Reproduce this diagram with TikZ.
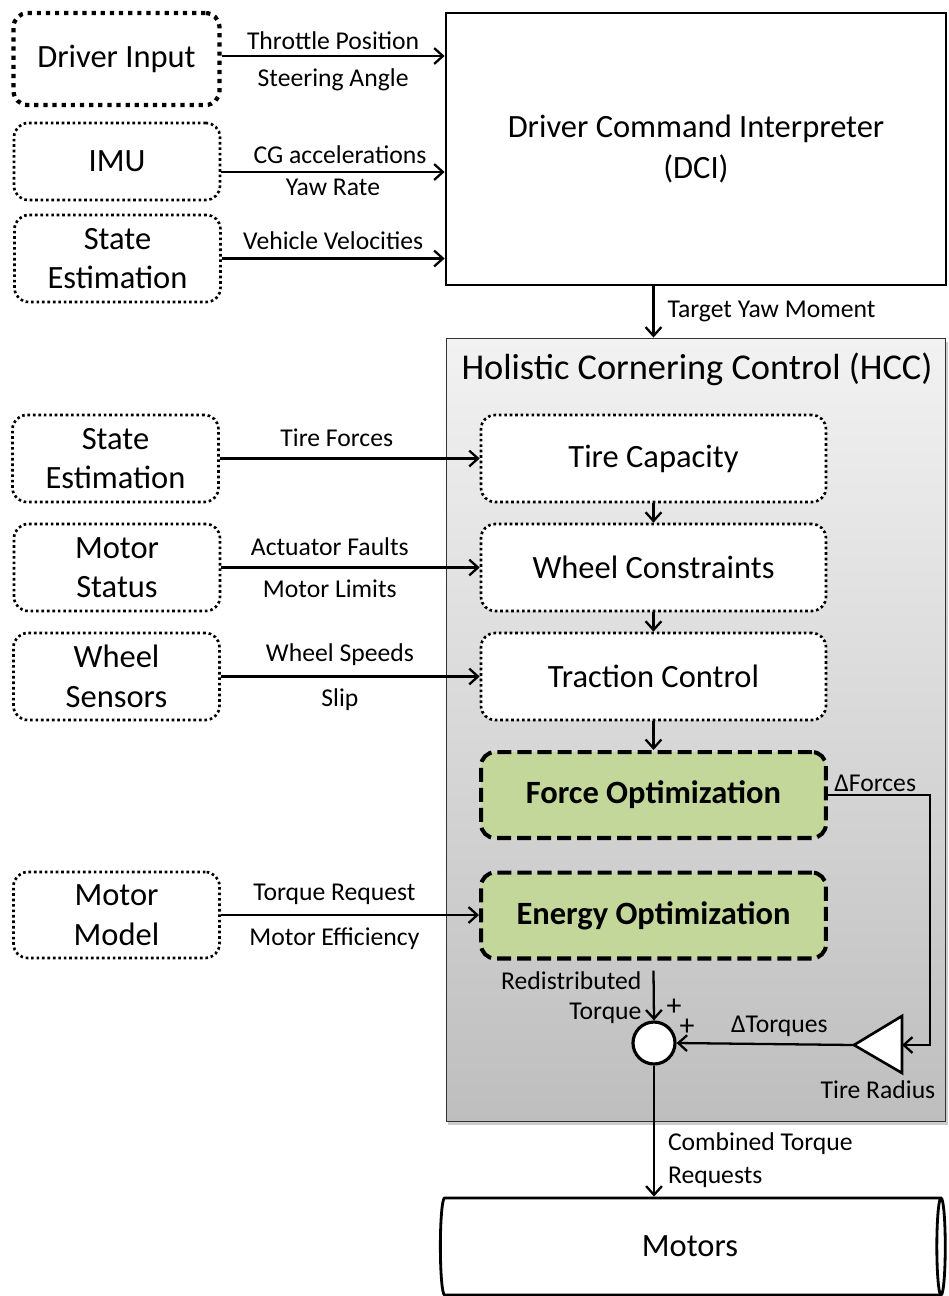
\documentclass[tikz,border=0pt]{standalone}
\usepackage{fontspec}
\setmainfont{Carlito}
\usetikzlibrary{shapes.geometric,shadows,calc,arrows.meta}

\definecolor{optgreen}{HTML}{C4D79B}
\definecolor{hcctop}{HTML}{F2F2F2}
\definecolor{hccbot}{HTML}{BEBEBE}

\tikzset{
  srcbox/.style={draw, rounded corners=8pt, line width=1.5pt, dash pattern=on 1.5pt off 1.6pt,
    minimum width=4.12cm, minimum height=1.74cm, align=center, font=\fontsize{18.5}{22.5}\selectfont},
  hccblock/.style={draw, fill=white, rounded corners=8pt, line width=1.5pt, dash pattern=on 1.5pt off 1.6pt,
    minimum width=6.9cm, minimum height=1.74cm, font=\fontsize{18.5}{22}\selectfont},
  optblock/.style={draw, fill=optgreen, rounded corners=8pt, line width=2.3pt, dash pattern=on 8pt off 3.4pt,
    minimum width=6.9cm, minimum height=1.72cm, font=\fontsize{18.5}{22}\selectfont\bfseries},
  lbl/.style={font=\fontsize{14.6}{17}\selectfont},
  flow/.style={->, line width=1.3pt, >={Straight Barb[length=5pt,width=9pt]}}
}

\begin{document}
\begin{tikzpicture}[x=0.02cm, y=-0.02cm]
  \useasboundingbox (0,0) rectangle (948,1296);

  % sources for the DCI
  \node[srcbox, line width=2.4pt, dash pattern=on 2.4pt off 2.8pt, minimum height=1.84cm] (drv) at (116.5,59) {Driver Input};
  \node[srcbox, minimum height=1.54cm] (imu) at (117,161.5) {IMU};
  \node[srcbox] (sest1) at (117.5,258.5) {State\\Estimation};

  \node[draw, line width=1.6pt, minimum width=10cm, minimum height=5.44cm, align=center,
    font=\fontsize{18.5}{23}\selectfont] (dci) at (696,149) {Driver Command Interpreter\\(DCI)};

  % HCC frame
  \node[draw=black!80, line width=0.6pt, top color=hcctop, bottom color=hccbot,
    drop shadow={shadow xshift=1pt, shadow yshift=-2pt, opacity=0.4},
    minimum width=10cm, minimum height=15.68cm] (hcc) at (696,730) {};
  \node[font=\fontsize{20.7}{24}\selectfont] (title) at (697,369) {Holistic Cornering Control (HCC)};

  \node[hccblock] (tcap) at (653.5,458.5) {Tire Capacity};
  \node[hccblock] (wcon) at (653.5,567.5) {Wheel Constraints};
  \node[hccblock] (trac) at (653.5,676.5) {Traction Control};
  \node[optblock] (fopt) at (653.5,795) {Force Optimization};
  \node[optblock] (eopt) at (653.5,915.5) {Energy Optimization};

  % sources for the HCC
  \node[srcbox] (sest2) at (115.5,458.5) {State\\Estimation};
  \node[srcbox] (mstat) at (117,567.5) {Motor\\Status};
  \node[srcbox] (wsens) at (116.5,676.5) {Wheel\\Sensors};
  \node[srcbox, minimum height=1.72cm] (mmod) at (116.5,915) {Motor\\Model};

  \node[circle, draw, fill=white, line width=1.8pt, minimum size=0.84cm, inner sep=0pt] (sum) at (654,1043) {};
  \coordinate (gtip) at (854,1045);
  \coordinate (gin) at (902,1045);
  \draw[fill=white, line width=1.5pt] (gtip) -- (902,1016) -- (902,1073) -- cycle;
  \node[lbl] (trad) at (878,1090) {Tire Radius};

  \node[cylinder, draw, line width=1.6pt, fill=white, shape aspect=0.4, minimum width=1.94cm,
    minimum height=10.1cm, inner sep=0pt, font=\fontsize{18.5}{22}\selectfont] (motors) at (690,1246.5) {Motors};

  % signals
  \draw[flow] (drv.east) ++(0,-3) coordinate (a) -- (a -| dci.west)
    node[lbl, midway, above, inner sep=2pt, yshift=1pt] {Throttle Position}
    node[lbl, midway, below, inner sep=2pt, yshift=-4.5pt] {Steering Angle};
  \draw[flow] (imu.east) ++(0,10.5) coordinate (b) -- (b -| dci.west)
    node[lbl, midway, above, inner sep=1pt, xshift=4pt, yshift=3pt] {CG accelerations}
    node[lbl, midway, below, inner sep=0pt, yshift=-3.5pt] {Yaw Rate};
  \draw[flow] (sest1.east) -- (sest1.east -| dci.west)
    node[lbl, midway, above, yshift=1pt] {Vehicle Velocities};
  \draw[flow] (tcap |- dci.south) -- (tcap |- hcc.north)
    node[lbl, midway, right, xshift=4pt] {Target Yaw Moment};

  \draw[flow] (sest2.east) -- (sest2.east -| tcap.west)
    node[lbl, pos=0.45, above, yshift=3pt] {Tire Forces};
  \draw[flow] (mstat.east) -- (mstat.east -| wcon.west)
    node[lbl, pos=0.42, above, yshift=3pt] {Actuator Faults}
    node[lbl, pos=0.42, below, yshift=-3pt] {Motor Limits};
  \draw[flow] (wsens.east) -- (wsens.east -| trac.west)
    node[lbl, pos=0.46, above, yshift=2pt] {Wheel Speeds}
    node[lbl, pos=0.46, below, yshift=-3pt] {Slip};
  \draw[flow] (mmod.east) -- (mmod.east -| eopt.west)
    node[lbl, pos=0.44, above, yshift=2pt] {Torque Request}
    node[lbl, pos=0.44, below, yshift=-3pt] {Motor Efficiency};

  \draw[flow] (tcap.south) -- (wcon.north);
  \draw[flow] (wcon.south) -- (trac.north);
  \draw[flow] (trac.south) -- (fopt.north);

  \draw[flow] (fopt.east) node[lbl, above right, inner sep=1pt, xshift=2pt] {ΔForces} -- ++(102,0) |- (gin);
  \draw[flow] (gtip) -- (sum.east) node[lbl, midway, above, xshift=8pt] {ΔTorques};
  \draw[flow] ($(eopt.south)+(0,10)$) -- (sum.north)
    node[lbl, midway, left, align=right, xshift=-3pt, yshift=-1pt] {Redistributed\\Torque};
  \node[font=\fontsize{17}{20}\selectfont] (plus1) at (674,1007) {+};
  \node[font=\fontsize{17}{20}\selectfont] (plus2) at (687,1027) {+};
  \draw[flow] (sum.south) -- (sum |- motors.north)
    node[lbl, pos=0.72, right, align=left, xshift=4pt] {Combined Torque\\[2pt]Requests};
\end{tikzpicture}
\end{document}
